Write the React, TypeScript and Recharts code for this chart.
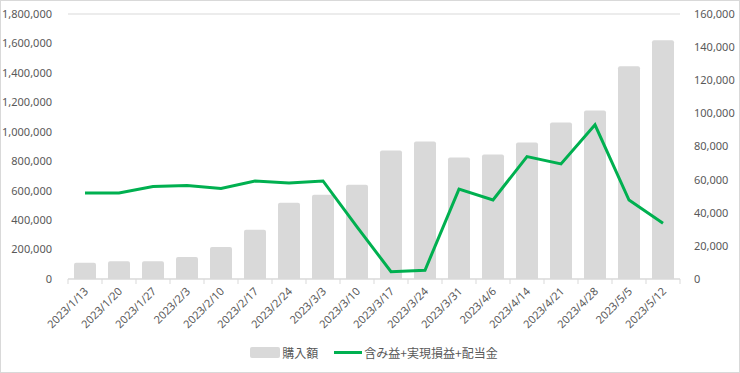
import { ComposedChart, Bar, Line, XAxis, YAxis, CartesianGrid } from 'recharts';

const dates = [
  '2023/1/13', '2023/1/20', '2023/1/27', '2023/2/3', '2023/2/10', '2023/2/17',
  '2023/2/24', '2023/3/3', '2023/3/10', '2023/3/17', '2023/3/24', '2023/3/31',
  '2023/4/6', '2023/4/14', '2023/4/21', '2023/4/28', '2023/5/5', '2023/5/12',
];
const purchase = [
  110000, 120000, 120000, 150000, 218000, 334000, 518000, 573000, 641000,
  873000, 934000, 825000, 845000, 927000, 1063000, 1145000, 1445000, 1622000,
];
const profit = [
  52000, 52000, 55800, 56400, 54700, 59200, 58000, 59200, 31500,
  4400, 5300, 54300, 47700, 73900, 69500, 93100, 47700, 33700,
];
const leftTicks = [0, 200000, 400000, 600000, 800000, 1000000, 1200000, 1400000, 1600000, 1800000];
const rightTicks = [0, 20000, 40000, 60000, 80000, 100000, 120000, 140000, 160000];

const rows = dates.map((date, i) => ({ date, purchase: purchase[i], profit: profit[i] }));

const TEXT = '#595959';
const GRID = '#d9d9d9';
const BAR = '#d9d9d9';
const LINE = '#00b050';
const FONT = '"Noto Sans", sans-serif';

const fmt = (v: number) => v.toLocaleString('en-US');

function DateTick(props: any) {
  const { x, y, payload, index, visibleTicksCount, width } = props;
  const band = width / visibleTicksCount;
  return (
    <g>
      <line x1={x - band / 2} x2={x - band / 2} y1={y - 8} y2={y - 3} stroke={GRID} />
      {index === visibleTicksCount - 1 && (
        <line x1={x + band / 2} x2={x + band / 2} y1={y - 8} y2={y - 3} stroke={GRID} />
      )}
      <text
        x={x + 4}
        y={y + 5}
        textAnchor="end"
        fill={TEXT}
        fontSize={11}
        fontFamily={FONT}
        transform={`rotate(-45 ${x + 4} ${y + 5})`}
      >
        {payload.value}
      </text>
    </g>
  );
}

function ChartLegend() {
  return (
    <div
      style={{
        display: 'flex',
        justifyContent: 'center',
        alignItems: 'center',
        fontFamily: '"Noto Sans CJK JP", sans-serif',
        fontSize: 12,
        color: TEXT,
        paddingLeft: 8,
      }}
    >
      <span style={{ display: 'inline-block', width: 30, height: 11, background: BAR, borderRadius: 2, marginRight: 2 }} />
      <span style={{ marginRight: 16 }}>購入額</span>
      <span style={{ display: 'inline-block', width: 28, height: 3, background: LINE, marginRight: 2 }} />
      <span>含み益+実現損益+配当金</span>
    </div>
  );
}

export default function App() {
  return (
    <div
      style={{
        position: 'absolute',
        left: 0,
        top: 0,
        width: 738,
        height: 371,
        border: `1px solid ${GRID}`,
        background: '#fff',
      }}
    >
      <ComposedChart
        width={738}
        height={330}
        data={rows}
        margin={{ top: 13, right: 0, bottom: 0, left: 0 }}
      >
        <CartesianGrid vertical={false} stroke={GRID} />
        <XAxis
          dataKey="date"
          interval={0}
          tickLine={false}
          axisLine={{ stroke: GRID }}
          tick={<DateTick />}
          height={52}
        />
        <YAxis
          yAxisId="left"
          domain={[0, 1800000]}
          ticks={leftTicks}
          tickFormatter={fmt}
          axisLine={false}
          tickLine={false}
          width={67}
          tick={{ fill: TEXT, fontSize: 11, fontFamily: FONT }}
          tickMargin={10}
        />
        <YAxis
          yAxisId="right"
          orientation="right"
          domain={[0, 160000]}
          ticks={rightTicks}
          tickFormatter={fmt}
          axisLine={false}
          tickLine={false}
          width={59}
          tick={{ fill: TEXT, fontSize: 11, fontFamily: FONT, textAnchor: 'start' }}
          tickMargin={8}
        />
        <Bar yAxisId="left" dataKey="purchase" fill={BAR} barSize={22} radius={[2, 2, 0, 0]} isAnimationActive={false} />
        <Line
          yAxisId="right"
          dataKey="profit"
          stroke={LINE}
          strokeWidth={3}
          dot={false}
          isAnimationActive={false}
        />
      </ComposedChart>
      <div style={{ position: 'absolute', left: 0, top: 343, width: 738 }}>
        <ChartLegend />
      </div>
    </div>
  );
}
